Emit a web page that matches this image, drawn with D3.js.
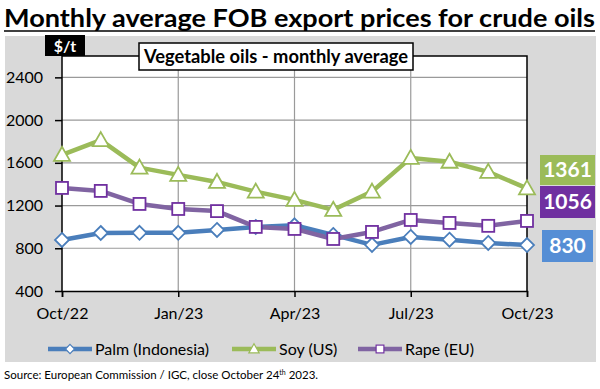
<!DOCTYPE html>
<html>
<head>
<meta charset="utf-8">
<script src="https://d3js.org/d3.v7.min.js"></script>
<style>
  body { margin: 0; background: #fff; }
  text { font-family: "Lato", "Open Sans", sans-serif; }
</style>
</head>
<body>
<svg width="600" height="389"></svg>
<script>
var months = ["Oct/22","Nov/22","Dec/22","Jan/23","Feb/23","Mar/23","Apr/23","May/23","Jun/23","Jul/23","Aug/23","Sep/23","Oct/23"];
var tickMonths = ["Oct/22","Jan/23","Apr/23","Jul/23","Oct/23"];
var yTicks = [400, 800, 1200, 1600, 2000, 2400];

var palm = [878, 943, 945, 945, 972, 1000, 1015, 925, 832, 906, 880, 850, 830];
var soy  = [1675, 1812, 1555, 1487, 1421, 1330, 1253, 1160, 1330, 1646, 1610, 1515, 1361];
var rape = [1365, 1337, 1215, 1168, 1148, 1000, 981, 887, 953, 1065, 1037, 1010, 1056];

var series = [
  {name: "Palm (Indonesia)", values: palm, color: "#4a7ebb", box: "#558ed5", marker: "diamond"},
  {name: "Soy (US)", values: soy, color: "#9bbb59", box: "#9bbb59", marker: "triangle"},
  {name: "Rape (EU)", values: rape, color: "#8064a2", mk: "#7030a0", box: "#7030a0", marker: "square"}
];

var svg = d3.select("svg");

// title
svg.append("text")
  .attr("x", 4).attr("y", 27)
  .attr("font-size", 25).attr("font-weight", "bold")
  .attr("textLength", 591).attr("lengthAdjust", "spacingAndGlyphs")
  .text("Monthly average FOB export prices for crude oils");
svg.append("line").attr("x1", 4).attr("x2", 595).attr("y1", 31).attr("y2", 31)
  .attr("stroke", "#000").attr("stroke-width", 1.5);

// panel
svg.append("rect").attr("x", 5).attr("y", 36).attr("width", 591).attr("height", 326).attr("fill", "#d9d9d9");

var x = d3.scalePoint().domain(months).range([62, 527]);
var y = d3.scaleLinear().domain([400, 2600]).range([291, 56]);

svg.append("rect").attr("x", 62).attr("y", y(2600)).attr("width", 465).attr("height", y(400) - y(2600))
  .attr("fill", "#fff");

// grid
svg.append("g").selectAll("line").data(yTicks.slice(1)).join("line")
  .attr("x1", 62).attr("x2", 527).attr("y1", d => y(d)).attr("y2", d => y(d))
  .attr("stroke", "#9a9a9a").attr("stroke-width", 1.2);
svg.append("g").selectAll("line").data(tickMonths.slice(1, 4)).join("line")
  .attr("x1", d => x(d)).attr("x2", d => x(d)).attr("y1", y(2600)).attr("y2", y(400))
  .attr("stroke", "#9a9a9a").attr("stroke-width", 1.2);

// frame
svg.append("path")
  .attr("d", "M62," + y(400) + "V" + y(2600) + "H527V" + y(400))
  .attr("fill", "none").attr("stroke", "#000").attr("stroke-width", 1.5);

// axes
var yAxis = svg.append("g").attr("transform", "translate(62,0)")
  .call(d3.axisLeft(y).tickValues(yTicks).tickFormat(d3.format("d")).tickSize(7).tickPadding(12));
yAxis.select(".domain").remove();
yAxis.selectAll("line").attr("stroke", "#000").attr("stroke-width", 1.5);
yAxis.selectAll("text").attr("font-size", 16).attr("fill", "#000")
  .style("font-family", "Lato, sans-serif");

var xAxis = svg.append("g").attr("transform", "translate(0," + y(400) + ")")
  .call(d3.axisBottom(x).tickValues(tickMonths).tickSize(6).tickPadding(11));
xAxis.select(".domain").attr("stroke", "#000").attr("stroke-width", 1.5);
xAxis.selectAll("line").attr("stroke", "#000").attr("stroke-width", 1.5);
xAxis.selectAll("text").attr("font-size", 16).attr("fill", "#000")
  .style("font-family", "Lato, sans-serif");

// $/t label
svg.append("rect").attr("x", 45).attr("y", 35).attr("width", 40).attr("height", 21).attr("fill", "#000");
svg.append("text").attr("x", 65).attr("y", 52).attr("text-anchor", "middle")
  .attr("font-size", 16).attr("font-weight", "bold").attr("fill", "#fff").text("$/t");

// inner title box
svg.append("rect").attr("x", 139).attr("y", 43).attr("width", 274).attr("height", 27)
  .attr("fill", "#fff").attr("stroke", "#000").attr("stroke-width", 1.5);
svg.append("text").attr("x", 276).attr("y", 63).attr("text-anchor", "middle")
  .attr("font-size", 18).attr("font-weight", "bold")
  .attr("textLength", 264).attr("lengthAdjust", "spacingAndGlyphs")
  .text("Vegetable oils - monthly average");

var line = d3.line().x((d, i) => x(months[i])).y(d => y(d));

function marker(sel, type, color) {
  if (type === "diamond") {
    sel.append("path").attr("d", "M0,-7L7,0L0,7L-7,0Z");
  } else if (type === "triangle") {
    sel.append("path").attr("d", "M0,-8L8,6L-8,6Z");
  } else {
    sel.append("rect").attr("x", -6).attr("y", -6).attr("width", 12).attr("height", 12);
  }
  sel.selectAll("path,rect").attr("fill", "#fff").attr("stroke", color).attr("stroke-width", 1.8);
}

var order = [series[0], series[2], series[1]];
order.forEach(function(s) {
  svg.append("path").datum(s.values).attr("d", line)
    .attr("fill", "none").attr("stroke", s.color).attr("stroke-width", 4.5)
    .attr("stroke-linejoin", "round");
});
order.forEach(function(s) {
  svg.append("g").selectAll("g").data(s.values).join("g")
    .attr("transform", (d, i) => "translate(" + x(months[i]) + "," + y(d) + ")")
    .each(function() { marker(d3.select(this), s.marker, s.mk || s.color); });
});

// end-value boxes
var boxes = [
  {s: series[1], x: 540, y: 155, w: 55, h: 30},
  {s: series[2], x: 540, y: 186, w: 55, h: 32},
  {s: series[0], x: 542, y: 230, w: 51, h: 32}
];
boxes.forEach(function(b) {
  svg.append("rect").attr("x", b.x).attr("y", b.y).attr("width", b.w).attr("height", b.h).attr("fill", b.s.box);
  svg.append("text").attr("x", b.x + b.w / 2).attr("y", b.y + b.h / 2 + 7).attr("text-anchor", "middle")
    .attr("font-size", 21).attr("font-weight", "bold").attr("fill", "#fff")
    .text(b.s.values[b.s.values.length - 1]);
});

// legend
var legX = [48, 232, 358];
series.forEach(function(s, i) {
  var g = svg.append("g").attr("transform", "translate(" + legX[i] + ",349)");
  g.append("line").attr("x1", 0).attr("x2", 44).attr("stroke", s.color).attr("stroke-width", 4.5);
  var m = g.append("g").attr("transform", "translate(22,0) scale(0.65)");
  marker(m, s.marker, s.mk || s.color);
  g.append("text").attr("x", 47).attr("y", 6).attr("font-size", 16).text(s.name);
});

// source
svg.append("text").attr("x", 4).attr("y", 379).attr("font-size", 11.5)
  .html('Source: European Commission / IGC, close October 24<tspan dy="-4" font-size="7">th</tspan><tspan dy="4"> 2023.</tspan>');
</script>
</body>
</html>
